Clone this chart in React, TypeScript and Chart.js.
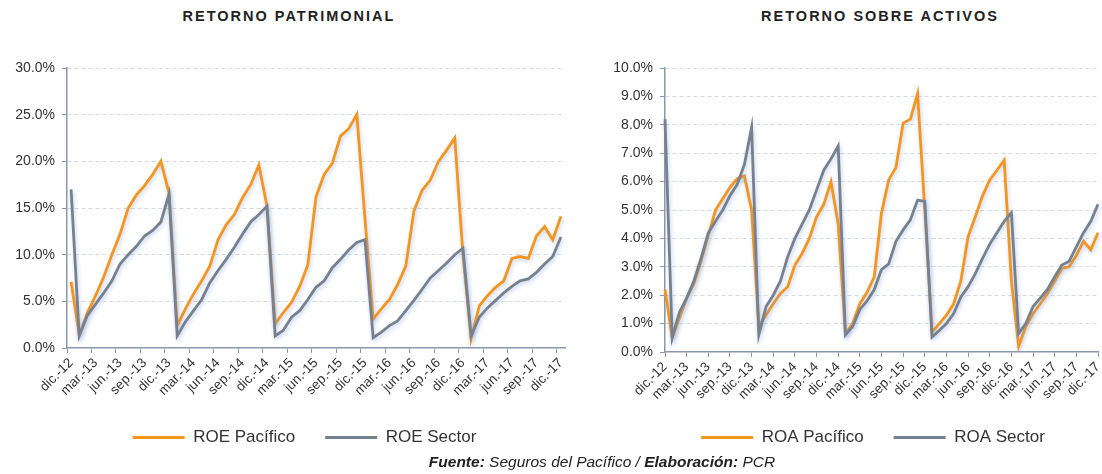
import { useEffect, useRef } from "react";
import { Chart, registerables } from "chart.js";
Chart.register(...registerables);

const monthNames = ["ene.", "feb.", "mar.", "abr.", "may.", "jun.", "jul.", "ago.", "sep.", "oct.", "nov.", "dic."];
const years = ["12", "13", "14", "15", "16", "17"];
// categories: dic.-12 ... dic.-17 (monthly)
const categories: string[] = ["dic.-12"];
for (let y = 1; y < years.length; y++) {
  for (let m = 0; m < 12; m++) categories.push(monthNames[m] + "-" + years[y]);
}

const roePacifico = [
  7.1, 1.4, 3.8, 5.6, 7.6, 10.0, 12.2, 15.0, 16.4, 17.4, 18.6, 20.0, 16.6,
  2.4, 4.2, 5.8, 7.2, 8.8, 11.6, 13.2, 14.3, 16.1, 17.5, 19.6, 15.2,
  2.6, 3.8, 4.9, 6.6, 8.9, 16.2, 18.6, 19.8, 22.7, 23.5, 25.0, 13.8,
  3.1, 4.2, 5.2, 6.8, 8.8, 14.7, 16.9, 18.0, 20.0, 21.2, 22.5, 10.0,
  1.0, 4.5, 5.6, 6.5, 7.2, 9.6, 9.8, 9.6, 12.0, 13.0, 11.6, 14.1,
];
const roeSector = [
  17.0, 1.3, 3.5, 4.7, 5.9, 7.2, 9.0, 10.0, 10.9, 12.0, 12.6, 13.5, 16.5,
  1.3, 2.8, 4.0, 5.2, 7.0, 8.3, 9.5, 10.8, 12.2, 13.5, 14.3, 15.2,
  1.3, 1.9, 3.3, 4.0, 5.2, 6.5, 7.2, 8.6, 9.5, 10.5, 11.3, 11.6,
  1.1, 1.7, 2.4, 2.9, 4.0, 5.1, 6.3, 7.5, 8.3, 9.1, 10.0, 10.7,
  1.3, 3.3, 4.3, 5.1, 5.9, 6.6, 7.2, 7.4, 8.1, 9.0, 9.8, 11.9,
];
const roaPacifico = [
  2.2, 0.5, 1.2, 1.9, 2.4, 3.2, 4.1, 5.0, 5.4, 5.8, 6.1, 6.2, 5.0,
  0.9, 1.3, 1.7, 2.06, 2.3, 3.06, 3.47, 4.0, 4.76, 5.2, 6.0, 4.5,
  0.65, 1.0, 1.7, 2.1, 2.65, 4.9, 6.06, 6.5, 8.06, 8.2, 9.1, 5.0,
  0.7, 1.0, 1.3, 1.7, 2.5, 4.06, 4.76, 5.5, 6.06, 6.4, 6.76, 2.5,
  0.2, 0.9, 1.35, 1.7, 2.06, 2.5, 2.95, 3.0, 3.4, 3.9, 3.6, 4.2,
];
const roaSector = [
  8.2, 0.5, 1.4, 1.9, 2.5, 3.3, 4.2, 4.6, 5.0, 5.5, 5.9, 6.6, 7.9,
  0.6, 1.6, 2.0, 2.5, 3.35, 4.0, 4.5, 5.0, 5.7, 6.4, 6.8, 7.25,
  0.6, 0.9, 1.5, 1.8, 2.2, 2.9, 3.1, 3.9, 4.3, 4.65, 5.35, 5.3,
  0.53, 0.76, 1.0, 1.35, 1.94, 2.3, 2.76, 3.3, 3.8, 4.2, 4.6, 4.9,
  0.65, 1.0, 1.6, 1.9, 2.2, 2.65, 3.06, 3.2, 3.7, 4.2, 4.6, 5.2,
];

const ORANGE = "#F5951E";
const GRAY = "#77818E";
const AXIS = "#8797AD";
const GRID = "#D3DBE5";
const TEXT = "#333333";
const FONT = '"Liberation Sans", Arial, sans-serif';

const glow = {
  id: "glow",
  beforeDatasetDraw(chart: any) {
    const c = chart.ctx;
    c.save();
    c.shadowColor = "rgba(120,150,210,0.45)";
    c.shadowBlur = 4;
    c.shadowOffsetX = 1;
    c.shadowOffsetY = 2;
  },
  afterDatasetDraw(chart: any) {
    chart.ctx.restore();
  },
};

// shifts the legend box horizontally after layout
const legendShift = {
  id: "legendShift",
  afterLayout(chart: any, _args: any, opts: any) {
    const lg = chart.legend;
    if (!lg || !opts || !opts.dx) return;
    lg.left += opts.dx;
    lg.right += opts.dx;
    if (lg.legendHitBoxes) lg.legendHitBoxes.forEach((h: any) => { h.left += opts.dx; });
  },
};

function makeConfig(
  labelA: string,
  labelB: string,
  dataA: number[],
  dataB: number[],
  yMax: number,
  yStep: number,
  offset: boolean,
  yWidth: number,
  xHeight: number,
  padRight: number,
  legendDx: number
): any {
  return {
    type: "line",
    data: {
      labels: categories,
      datasets: [
        { label: labelA, data: dataA, borderColor: ORANGE, backgroundColor: ORANGE, borderWidth: 2.8, pointRadius: 0, tension: 0, order: 1, clip: 4 },
        { label: labelB, data: dataB, borderColor: GRAY, backgroundColor: GRAY, borderWidth: 2.8, pointRadius: 0, tension: 0, order: 0, clip: 4 },
      ],
    },
    options: {
      animation: false,
      responsive: false,
      maintainAspectRatio: false,
      layout: { padding: { top: 68, left: 0, right: padRight, bottom: 18 } },
      plugins: {
        tooltip: { enabled: false },
        title: { display: false },
        legendShift: { dx: legendDx },
        legend: {
          position: "bottom",
          labels: {
            boxWidth: 52,
            boxHeight: 3,
            padding: 30,
            color: TEXT,
            font: { family: FONT, size: 17 },
            sort: (a: any, b: any) => a.datasetIndex - b.datasetIndex,
            generateLabels: (chart: any) => {
              const items = Chart.defaults.plugins.legend.labels.generateLabels(chart);
              items.forEach((it: any) => { it.lineWidth = 0; });
              return items;
            },
          },
        },
      },
      scales: {
        x: {
          type: "category",
          offset: offset,
          afterFit: (s: any) => { s.height = xHeight; },
          grid: {
            display: true,
            drawOnChartArea: false,
            drawTicks: true,
            offset: offset,
            tickLength: 5,
            tickColor: (ctx: any) => (ctx.index % 3 === 0 ? AXIS : "rgba(0,0,0,0)"),
            color: "rgba(0,0,0,0)",
          },
          border: { display: true, color: AXIS, width: 1.5 },
          ticks: {
            autoSkip: false,
            maxRotation: 45,
            minRotation: 45,
            padding: 2,
            color: TEXT,
            font: { family: FONT, size: 13.5 },
            callback: (_v: any, i: number) => (i % 3 === 0 ? categories[i] : ""),
          },
        },
        y: {
          min: 0,
          max: yMax,
          afterFit: (s: any) => { s.width = yWidth; },
          grid: {
            color: (ctx: any) => (ctx.index === 0 ? "rgba(0,0,0,0)" : GRID),
            lineWidth: 1,
            tickColor: AXIS,
            tickLength: 5,
            tickBorderDash: [],
          },
          border: { display: true, color: AXIS, width: 1.5, dash: [4, 3] },
          ticks: {
            stepSize: yStep,
            padding: 7,
            color: TEXT,
            font: { family: FONT, size: 14 },
            callback: (v: any) => Number(v).toFixed(1) + "%",
          },
        },
      },
    },
    plugins: [glow, legendShift],
  };
}

export default function App() {
  const leftRef = useRef<HTMLCanvasElement>(null);
  const rightRef = useRef<HTMLCanvasElement>(null);

  useEffect(() => {
    const c1 = new Chart(leftRef.current!, makeConfig("ROE Pacífico", "ROE Sector", roePacifico, roeSector, 30, 5, true, 67, 51, 45, 22));
    const c2 = new Chart(rightRef.current!, makeConfig("ROA Pacífico", "ROA Sector", roaPacifico, roaSector, 10, 1, false, 65, 47, 48, 24));
    return () => {
      c1.destroy();
      c2.destroy();
    };
  }, []);

  const titleStyle: any = {
    position: "absolute",
    top: 8,
    fontFamily: FONT,
    fontWeight: "bold",
    fontSize: 14.5,
    letterSpacing: "2px",
    color: "#222",
    textAlign: "center",
    whiteSpace: "nowrap",
  };

  return (
    <div style={{ position: "fixed", left: 0, top: 0, width: 1102, height: 474, overflow: "hidden", background: "#fff" }}>
      <div style={{ ...titleStyle, left: 0, width: 578 }}>RETORNO PATRIMONIAL</div>
      <div style={{ ...titleStyle, left: 600, width: 560 }}>RETORNO SOBRE ACTIVOS</div>
      <canvas ref={leftRef} width={610} height={474} style={{ position: "absolute", left: 0, top: 0, width: 610, height: 474 }} />
      <canvas ref={rightRef} width={546} height={474} style={{ position: "absolute", left: 600, top: 0, width: 546, height: 474 }} />
      <div
        style={{
          position: "absolute",
          left: 0,
          width: 1204,
          top: 453,
          textAlign: "center",
          fontFamily: FONT,
          fontStyle: "italic",
          fontSize: 15.5,
          color: "#222",
          whiteSpace: "nowrap",
        }}
      >
        <b>Fuente:</b> Seguros del Pacífico / <b>Elaboración:</b> PCR
      </div>
    </div>
  );
}
